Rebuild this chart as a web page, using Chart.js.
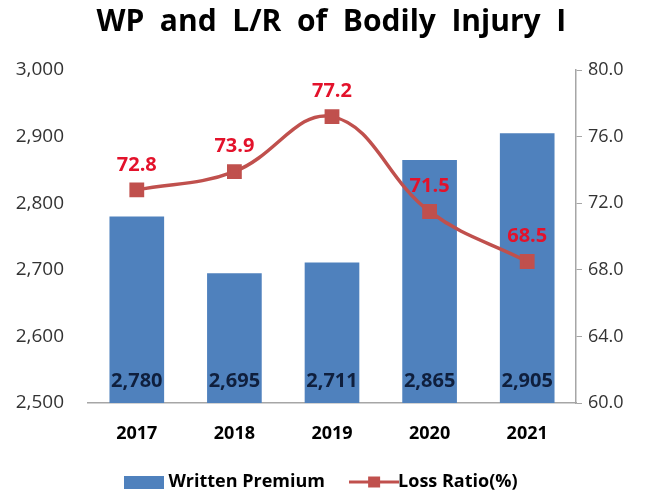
<!DOCTYPE html>
<html>
<head>
<meta charset="utf-8">
<script src="https://cdn.jsdelivr.net/npm/chart.js@4/dist/chart.umd.min.js"></script>
<style>
  html, body { margin: 0; padding: 0; background: #fff; }
  #wrap { width: 647px; height: 492px; }
</style>
</head>
<body>
<div id="wrap"><canvas id="chart" width="647" height="492"></canvas></div>
<script>
// datos
const years = ['2017', '2018', '2019', '2020', '2021'];
const writtenPremium = [2780, 2695, 2711, 2865, 2905];
const lossRatio = [72.8, 73.9, 77.2, 71.5, 68.5];
const leftTicks = [2500, 2600, 2700, 2800, 2900, 3000];
const rightTicks = [60, 64, 68, 72, 76, 80];

const AZUL = '#4F81BD';
const ROJO = '#C0504D';
const FUENTE = "'Open Sans', 'Noto Sans', sans-serif";

// iconos de leyenda (más anchos que pointStyleWidth para acercar el texto)
function iconoBarra() {
  const c = document.createElement('canvas');
  c.width = 40; c.height = 13;
  const g = c.getContext('2d');
  g.fillStyle = AZUL;
  g.fillRect(0, 0, 40, 13);
  return c;
}
function iconoLinea() {
  const c = document.createElement('canvas');
  c.width = 50; c.height = 13;
  const g = c.getContext('2d');
  g.strokeStyle = ROJO; g.lineWidth = 3;
  g.beginPath(); g.moveTo(0, 6.5); g.lineTo(50, 6.5); g.stroke();
  g.fillStyle = ROJO;
  g.fillRect(19, 1, 12, 11);
  return c;
}

// etiquetas de valores
const etiquetas = {
  id: 'etiquetas',
  afterDatasetsDraw(chart) {
    const ctx = chart.ctx;
    const abajo = chart.chartArea.bottom;
    ctx.save();
    ctx.textAlign = 'center';
    ctx.textBaseline = 'middle';
    ctx.font = "bold 20px " + FUENTE;
    // barras
    ctx.fillStyle = '#0F1F3D';
    chart.getDatasetMeta(0).data.forEach((el, i) => {
      ctx.fillText(writtenPremium[i].toLocaleString('en-US'), el.x, abajo - 22);
    });
    // línea
    ctx.fillStyle = '#E3122B';
    chart.getDatasetMeta(1).data.forEach((el, i) => {
      ctx.fillText(lossRatio[i].toFixed(1), el.x, el.y - 25);
    });
    ctx.restore();
  }
};

const ctx = document.getElementById('chart').getContext('2d');
new Chart(ctx, {
  type: 'bar',
  data: {
    labels: years,
    datasets: [
      {
        type: 'bar',
        label: 'Written Premium',
        data: writtenPremium,
        backgroundColor: AZUL,
        yAxisID: 'y',
        categoryPercentage: 0.8,
        barPercentage: 0.7,
        order: 2
      },
      {
        type: 'line',
        label: 'Loss Ratio(%)',
        data: lossRatio,
        borderColor: ROJO,
        backgroundColor: ROJO,
        borderWidth: 3.5,
        tension: 0.4,
        pointStyle: 'rect',
        pointRadius: 8,
        pointBackgroundColor: ROJO,
        pointBorderColor: ROJO,
        yAxisID: 'y1',
        order: 1
      }
    ]
  },
  options: {
    responsive: false,
    animation: false,
    layout: { padding: { left: 0, right: 0, top: 4, bottom: -9 } },
    plugins: {
      title: {
        display: true,
        text: '  WP  and  L/R  of  Bodily  Injury  I',
        color: '#000',
        font: { family: FUENTE, size: 30, weight: 'bold' },
        padding: { top: 0, bottom: 30 }
      },
      legend: {
        position: 'bottom',
        labels: {
          color: '#000',
          font: { family: FUENTE, size: 18, weight: 'bold' },
          usePointStyle: true,
          pointStyleWidth: 30,
          boxHeight: 13,
          padding: 6,
          generateLabels(chart) {
            return [
              { text: 'Written Premium      ', pointStyle: iconoBarra(), fillStyle: AZUL, strokeStyle: AZUL, lineWidth: 0, datasetIndex: 0, fontColor: '#000' },
              { text: 'Loss Ratio(%)', pointStyle: iconoLinea(), fillStyle: ROJO, strokeStyle: ROJO, lineWidth: 0, datasetIndex: 1, fontColor: '#000' }
            ];
          }
        }
      },
      tooltip: { enabled: false }
    },
    scales: {
      x: {
        grid: { display: false },
        border: { display: true, color: '#A6A6A6', width: 1.5 },
        afterFit(scale) { scale.height = 64; },
        ticks: { color: '#000', padding: 12, font: { family: FUENTE, size: 18, weight: 'bold' } }
      },
      y: {
        position: 'left',
        min: 2500,
        max: 3000,
        afterBuildTicks(scale) { scale.ticks = leftTicks.map(v => ({ value: v })); },
        afterFit(scale) { scale.width = 88; },
        grid: { display: false },
        border: { display: false },
        ticks: {
          color: '#333',
          padding: 16,
          font: { family: FUENTE, size: 19 },
          callback: v => v.toLocaleString('en-US')
        }
      },
      y1: {
        position: 'right',
        min: 60,
        max: 80,
        afterBuildTicks(scale) { scale.ticks = rightTicks.map(v => ({ value: v })); },
        afterFit(scale) { scale.width = 71; },
        grid: { display: true, drawOnChartArea: false, color: '#A6A6A6', tickLength: 6 },
        border: { display: true, color: '#A6A6A6', width: 1.5 },
        ticks: {
          color: '#333',
          padding: 6,
          font: { family: FUENTE, size: 18 },
          callback: v => v.toFixed(1)
        }
      }
    }
  },
  plugins: [etiquetas]
});
</script>
</body>
</html>
